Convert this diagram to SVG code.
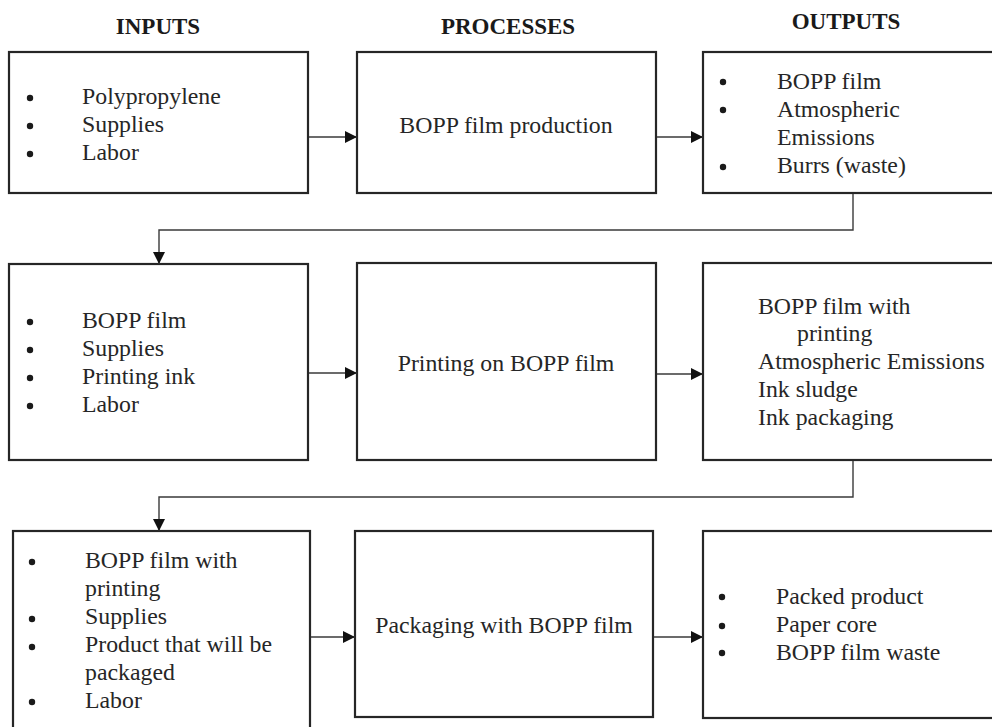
<svg xmlns="http://www.w3.org/2000/svg" width="992" height="727" viewBox="0 0 992 727">
  <style>
    .box { fill: #ffffff; stroke: #262626; stroke-width: 2.2; }
    .hd { font-family: "Liberation Serif", "Times New Roman", serif; font-size: 23px; font-weight: bold; fill: #1a1a1a; text-anchor: middle; }
    .tx { font-family: "Liberation Serif", "Times New Roman", serif; font-size: 23.8px; fill: #262626; }
    .mid { text-anchor: middle; }
    .dot { fill: #1a1a1a; }
    .link { fill: none; stroke: #3a3a3a; stroke-width: 1.4; }
  </style>
  <defs>
    <marker id="arrow" viewBox="0 0 12 12" refX="12" refY="6" markerWidth="12" markerHeight="12" markerUnits="userSpaceOnUse" orient="auto">
      <path d="M0,0 L12,6 L0,12 Z" fill="#111"/>
    </marker>
  </defs>
  <rect width="992" height="727" fill="#ffffff"/>

  <!-- column headings -->
  <g id="headings">
    <text class="hd" x="158" y="34">INPUTS</text>
    <text class="hd" x="508" y="34">PROCESSES</text>
    <text class="hd" x="846" y="29">OUTPUTS</text>
  </g>

  <!-- row 1 -->
  <g id="inputs-1">
    <rect class="box" x="9" y="52" width="299" height="141"/>
    <circle class="dot" cx="30" cy="98" r="3.2"/>
    <circle class="dot" cx="30" cy="126" r="3.2"/>
    <circle class="dot" cx="30" cy="154" r="3.2"/>
    <text class="tx" x="82" y="104">Polypropylene</text>
    <text class="tx" x="82" y="132">Supplies</text>
    <text class="tx" x="82" y="160">Labor</text>
  </g>
  <g id="process-1">
    <rect class="box" x="357" y="52" width="299" height="141"/>
    <text class="tx mid" x="506" y="133">BOPP film production</text>
  </g>
  <g id="outputs-1">
    <rect class="box" x="703" y="52" width="300" height="141"/>
    <circle class="dot" cx="723" cy="82" r="3.2"/>
    <circle class="dot" cx="723" cy="110" r="3.2"/>
    <circle class="dot" cx="723" cy="167" r="3.2"/>
    <text class="tx" x="777" y="89">BOPP film</text>
    <text class="tx" x="777" y="117">Atmospheric</text>
    <text class="tx" x="777" y="145">Emissions</text>
    <text class="tx" x="777" y="173">Burrs (waste)</text>
  </g>

  <!-- row 2 -->
  <g id="inputs-2">
    <rect class="box" x="9" y="264" width="299" height="196"/>
    <circle class="dot" cx="30" cy="322" r="3.2"/>
    <circle class="dot" cx="30" cy="350" r="3.2"/>
    <circle class="dot" cx="30" cy="378" r="3.2"/>
    <circle class="dot" cx="30" cy="406" r="3.2"/>
    <text class="tx" x="82" y="328">BOPP film</text>
    <text class="tx" x="82" y="356">Supplies</text>
    <text class="tx" x="82" y="384">Printing ink</text>
    <text class="tx" x="82" y="412">Labor</text>
  </g>
  <g id="process-2">
    <rect class="box" x="357" y="263" width="299" height="197"/>
    <text class="tx mid" x="506" y="371">Printing on BOPP film</text>
  </g>
  <g id="outputs-2">
    <rect class="box" x="703" y="263" width="300" height="197"/>
    <text class="tx" x="758" y="314">BOPP film with</text>
    <text class="tx" x="797" y="341">printing</text>
    <text class="tx" x="758" y="369">Atmospheric Emissions</text>
    <text class="tx" x="758" y="397">Ink sludge</text>
    <text class="tx" x="758" y="425">Ink packaging</text>
  </g>

  <!-- row 3 -->
  <g id="inputs-3">
    <rect class="box" x="13" y="531" width="297" height="210"/>
    <circle class="dot" cx="32" cy="562" r="3.2"/>
    <circle class="dot" cx="32" cy="619" r="3.2"/>
    <circle class="dot" cx="32" cy="647" r="3.2"/>
    <circle class="dot" cx="32" cy="702" r="3.2"/>
    <text class="tx" x="85" y="568">BOPP film with</text>
    <text class="tx" x="85" y="596">printing</text>
    <text class="tx" x="85" y="624">Supplies</text>
    <text class="tx" x="85" y="652">Product that will be</text>
    <text class="tx" x="85" y="680">packaged</text>
    <text class="tx" x="85" y="708">Labor</text>
  </g>
  <g id="process-3">
    <rect class="box" x="355" y="531" width="298" height="186"/>
    <text class="tx mid" x="504" y="633">Packaging with BOPP film</text>
  </g>
  <g id="outputs-3">
    <rect class="box" x="703" y="531" width="300" height="187"/>
    <circle class="dot" cx="722" cy="597" r="3.2"/>
    <circle class="dot" cx="722" cy="626" r="3.2"/>
    <circle class="dot" cx="722" cy="653" r="3.2"/>
    <text class="tx" x="776" y="604">Packed product</text>
    <text class="tx" x="776" y="632">Paper core</text>
    <text class="tx" x="776" y="660">BOPP film waste</text>
  </g>

  <!-- connectors -->
  <g id="connectors">
    <line class="link" x1="309" y1="137" x2="357" y2="137" marker-end="url(#arrow)"/>
    <line class="link" x1="657" y1="137" x2="703" y2="137" marker-end="url(#arrow)"/>
    <polyline class="link" points="853,194 853,230 159,230 159,264" marker-end="url(#arrow)"/>
    <line class="link" x1="309" y1="373" x2="357" y2="373" marker-end="url(#arrow)"/>
    <line class="link" x1="657" y1="374" x2="703" y2="374" marker-end="url(#arrow)"/>
    <polyline class="link" points="853,461 853,497 159,497 159,531" marker-end="url(#arrow)"/>
    <line class="link" x1="311" y1="637" x2="355" y2="637" marker-end="url(#arrow)"/>
    <line class="link" x1="654" y1="637" x2="703" y2="637" marker-end="url(#arrow)"/>
  </g>
</svg>
